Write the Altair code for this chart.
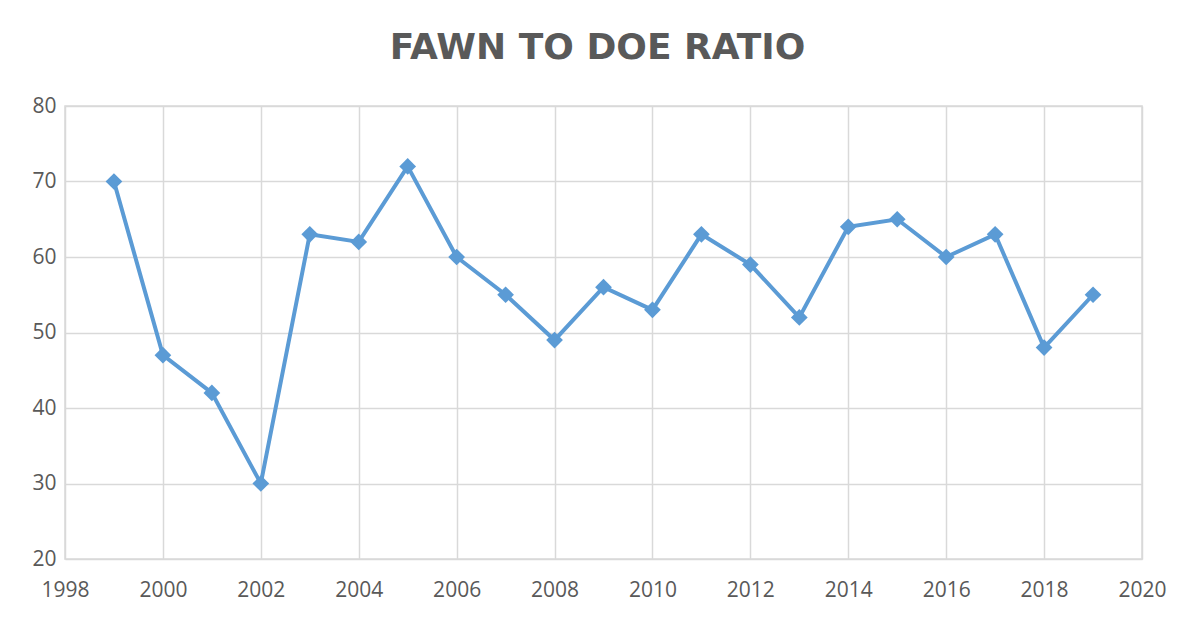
import altair as alt
import pandas as pd

years = [1999, 2000, 2001, 2002, 2003, 2004, 2005, 2006, 2007, 2008, 2009,
         2010, 2011, 2012, 2013, 2014, 2015, 2016, 2017, 2018, 2019]
ratios = [70, 47, 42, 30, 63, 62, 72, 60, 55, 49, 56,
          53, 63, 59, 52, 64, 65, 60, 63, 48, 55]
x_ticks = list(range(1998, 2021, 2))
y_ticks = [20, 30, 40, 50, 60, 70, 80]

df = pd.DataFrame({"year": years, "ratio": ratios})

blue = "#5B9BD5"
grey_text = "#595959"

base = alt.Chart(df).encode(
    x=alt.X("year:Q", scale=alt.Scale(domain=[1998, 2020], nice=False, zero=False),
            axis=alt.Axis(values=x_ticks, format="d", title=None, grid=True,
                          domain=False, ticks=False, labelPadding=20,
                          labelFlush=False)),
    y=alt.Y("ratio:Q", scale=alt.Scale(domain=[20, 80], nice=False, zero=False),
            axis=alt.Axis(values=y_ticks, title=None, grid=True, domain=False,
                          ticks=False, labelPadding=9)),
)

line = base.mark_line(color=blue, strokeWidth=4)
points = base.mark_point(shape="diamond", filled=True, color=blue, size=280, opacity=1)

chart = (line + points).properties(
    width=1077,
    height=453,
    title=alt.TitleParams("FAWN TO DOE RATIO", fontSize=36, font="DejaVu Sans",
                          fontWeight="bold", color=grey_text, anchor="middle",
                          offset=28, dx=-6),
    padding={"left": 57, "top": 98, "right": 36, "bottom": 50},
    autosize=alt.AutoSizeParams(type="none"),
).configure_view(
    stroke="#D9D9D9", strokeWidth=1.5
).configure_axis(
    gridColor="#D9D9D9", gridWidth=1.5, labelColor=grey_text,
    labelFont="Open Sans", labelFontSize=21
).configure_title(
    limit=0
)

chart.save("out.html", embed_options={"renderer": "svg", "actions": False})
